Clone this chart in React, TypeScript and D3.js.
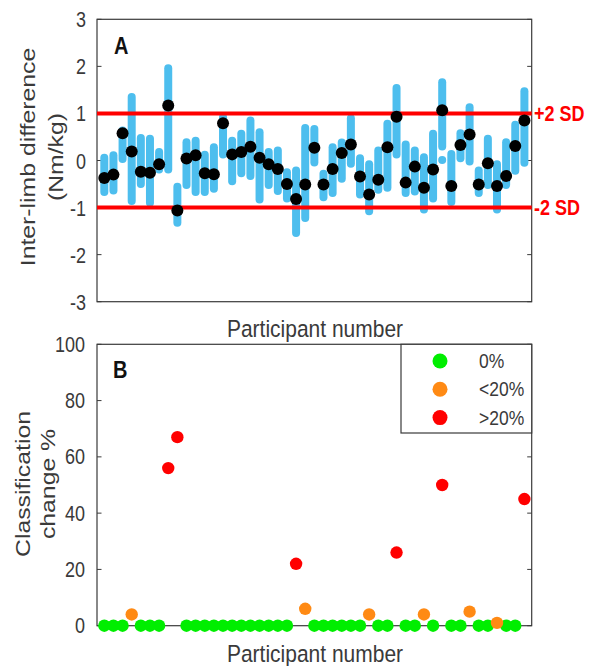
import * as d3 from 'd3'

// Panel A: mean inter-limb difference per participant (Nm/kg) and the spread of the blue points
const meanDiff = [-0.37, -0.3, 0.58, 0.19, -0.24, -0.26, -0.08, 1.17, -1.06, 0.04, 0.11, -0.27, -0.29, 0.79, 0.13, 0.18, 0.29, 0.06, -0.08, -0.18, -0.5, -0.82, -0.51, 0.27, -0.51, -0.18, 0.16, 0.34, -0.34, -0.72, -0.41, 0.28, 0.93, -0.47, -0.13, -0.58, -0.19, 1.07, -0.54, 0.33, 0.55, -0.51, -0.06, -0.54, -0.33, 0.31, 0.85]
const spreadMax = [0.06, 0.11, 0.64, 1.35, 0.48, 0.46, 0.18, 1.96, -0.56, 0.39, 0.42, 0.12, 0.28, 0.92, 0.42, 0.57, 0.85, 0.6, 0.18, 0.21, -0.25, -0.21, 0.69, 0.67, -0.28, 0.28, 0.38, 0.9, 0.05, -0.08, 0.21, 0.78, 1.54, 0.34, 0.21, 0.07, 0.57, 1.66, 0.14, 0.58, 1.13, -0.21, 0.46, -0.08, 0.39, 0.76, 1.47]
const spreadMin = [-0.67, -0.64, 0.03, -0.86, -0.5, -0.9, -0.19, -0.19, -1.32, -0.52, -0.67, -0.67, -0.6, 0.13, -0.44, -0.27, -0.33, -0.83, -0.52, -0.65, -0.81, -1.54, -1.22, -0.04, -0.78, -0.69, -0.39, -0.07, -0.72, -1.08, -0.62, -0.58, 0.13, -0.69, -0.66, -1.04, -0.81, 0.3, -0.88, 0.05, -0.02, -0.69, -0.52, -1.04, -0.52, -0.22, -0.05]
const strayPoints = [{ participant: 38, value: 0.01 }]
const sdLimits = [{ value: 1, label: '+2 SD' }, { value: -1, label: '-2 SD' }]
const ticksA = [-3, -2, -1, 0, 1, 2, 3]

// Panel B: classification change %
const classChange = [0, 0, 0, 4, 0, 0, 0, 56, 67, 0, 0, 0, 0, 0, 0, 0, 0, 0, 0, 0, 0, 22, 6, 0, 0, 0, 0, 0, 0, 4, 0, 0, 26, 0, 0, 4, 0, 50, 0, 0, 5, 0, 0, 1, 0, 0, 45]
const ticksB = [0, 20, 40, 60, 80, 100]
const groups = [
  { label: '0%', color: '#00ee00', test: (v: number) => v === 0 },
  { label: '<20%', color: '#ff8a14', test: (v: number) => v > 0 && v < 20 },
  { label: '>20%', color: '#ff0000', test: (v: number) => v >= 20 },
]

const FONT = '"Liberation Sans", Arial, Helvetica, sans-serif'
const STRETCH = 1.18
const AXIS_COLOR = '#3a3a3a'
const BLUE = '#4dbeee'

const left = 97
const right = 531.7

// text slightly stretched vertically like the source figure
function T({ x, y, children, size = 18, anchor = 'start', weight = 'normal', fill = AXIS_COLOR, rotate = false }: any) {
  return (
    <text
      transform={`translate(${x},${y}) scale(1,${STRETCH})${rotate ? ' rotate(-90)' : ''}`}
      fontFamily={FONT}
      fontSize={size}
      fontWeight={weight}
      textAnchor={anchor}
      fill={fill}
    >
      {children}
    </text>
  )
}

function Frame({ y, top, bottom, ticks }: any) {
  return (
    <g>
      <rect x={left} y={top} width={right - left} height={bottom - top} fill='none' stroke={AXIS_COLOR} strokeWidth={1.2} />
      {ticks.map((t: number) => (
        <g key={t}>
          <line x1={left} x2={left + 4.5} y1={y(t)} y2={y(t)} stroke={AXIS_COLOR} strokeWidth={1} />
          <line x1={right - 4.5} x2={right} y1={y(t)} y2={y(t)} stroke={AXIS_COLOR} strokeWidth={1} />
        </g>
      ))}
    </g>
  )
}

export default function App() {
  const x = d3.scaleLinear().domain([0.2, 47.8]).range([left, right])

  // panel A
  const yA = d3.scaleLinear().domain([-3, 3]).range([301.7, 19.3])
  // panel B
  const yB = d3.scaleLinear().domain([0, 100]).range([625.7, 344.3])

  return (
    <svg width={592} height={666} style={{ position: 'absolute', left: 0, top: 0, background: '#fff' }}>
      <rect width={592} height={666} fill='#fff' />

      {/* ---------- Panel A ---------- */}
      <Frame y={yA} top={19.3} bottom={301.7} ticks={ticksA} />
      {meanDiff.map((_, i) => (
        <line key={'s' + i}
          x1={x(i + 1)} x2={x(i + 1)}
          y1={yA(spreadMin[i])} y2={yA(spreadMax[i])}
          stroke={BLUE} strokeWidth={8} strokeLinecap='round' />
      ))}
      {strayPoints.map((d, i) => (
        <circle key={'o' + i} cx={x(d.participant)} cy={yA(d.value)} r={4} fill={BLUE} />
      ))}
      {sdLimits.map(d => (
        <g key={d.label}>
          <line x1={left} x2={right} y1={yA(d.value)} y2={yA(d.value)} stroke='#ff0000' strokeWidth={4} />
          <T x={534} y={yA(d.value) + 7.5} size={18} weight='bold' fill='#ff0000'>{d.label}</T>
        </g>
      ))}
      {meanDiff.map((v, i) => (
        <circle key={'m' + i} cx={x(i + 1)} cy={yA(v)} r={6} fill='#000' />
      ))}
      {ticksA.map(t => (
        <T key={t} x={86} y={yA(t) + 8} anchor='end'>{String(t)}</T>
      ))}
      <T x={114} y={54} size={20} weight='bold' fill='#111'>A</T>
      <T x={315} y={337} size={21} anchor='middle'>Participant number</T>
      <T x={35} y={157} size={21} anchor='middle' rotate>Inter-limb difference</T>
      <T x={63} y={157} size={21} anchor='middle' rotate>(Nm/kg)</T>

      {/* ---------- Panel B ---------- */}
      <Frame y={yB} top={344.3} bottom={625.7} ticks={ticksB} />
      {groups.map(g => (
        <g key={g.label}>
          {classChange.map((v, i) => g.test(v) ? (
            <circle key={i} cx={x(i + 1)} cy={yB(v)} r={6.2} fill={g.color} />
          ) : null)}
        </g>
      ))}
      {ticksB.map(t => (
        <T key={t} x={85} y={yB(t) + 7.5} anchor='end'>{String(t)}</T>
      ))}
      <T x={113} y={378} size={20} weight='bold' fill='#111'>B</T>
      <T x={315} y={662} size={21} anchor='middle'>Participant number</T>
      <T x={29.5} y={484} size={21} anchor='middle' rotate>Classification</T>
      <T x={55} y={484} size={21} anchor='middle' rotate>change %</T>

      {/* legend */}
      <rect x={401} y={344.3} width={right - 401} height={433 - 344.3} fill='#fff' stroke={AXIS_COLOR} strokeWidth={1.2} />
      {groups.map((g, i) => (
        <g key={'l' + g.label}>
          <circle cx={440} cy={361 + i * 28.3} r={7.5} fill={g.color} />
          <T x={479} y={361 + i * 28.3 + 7} size={17.5}>{g.label}</T>
        </g>
      ))}
    </svg>
  )
}
